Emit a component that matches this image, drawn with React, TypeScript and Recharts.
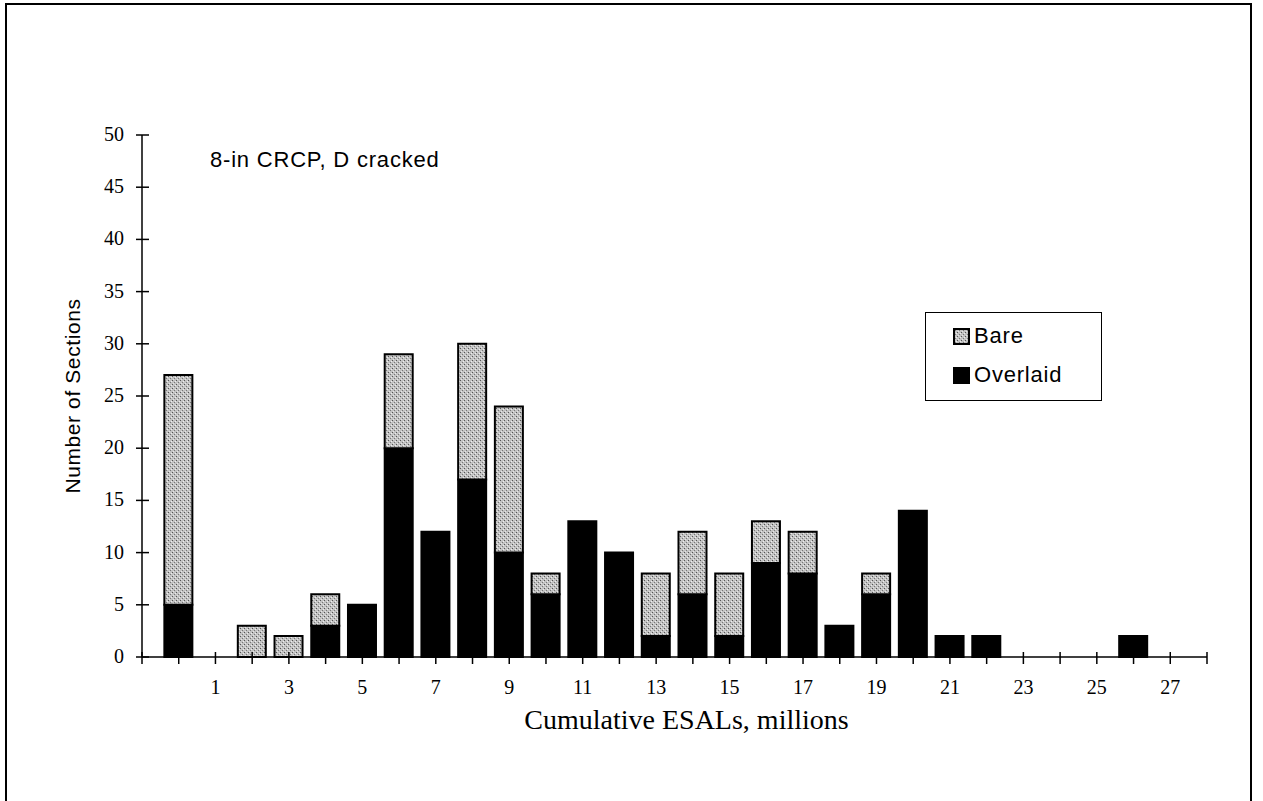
import React from "react";
import { BarChart, Bar, XAxis, YAxis, Legend, Label } from "recharts";

const positions = [0, 2, 3, 4, 5, 6, 7, 8, 9, 10, 11, 12, 13, 14, 15, 16, 17, 18, 19, 20, 21, 22, 26];
const overlaid = [5, 0, 0, 3, 5, 20, 12, 17, 10, 6, 13, 10, 2, 6, 2, 9, 8, 3, 6, 14, 2, 2, 2];
const bare = [22, 3, 2, 3, 0, 9, 0, 13, 14, 2, 0, 0, 6, 6, 6, 4, 4, 0, 2, 0, 0, 0, 0];
const xTicks = Array.from({ length: 30 }, (_, i) => i - 1);
const xLabels = [1, 3, 5, 7, 9, 11, 13, 15, 17, 19, 21, 23, 25, 27];
const yTicks = [0, 5, 10, 15, 20, 25, 30, 35, 40, 45, 50];

const data = positions.map((p, i) => ({ x: p, Overlaid: overlaid[i], Bare: bare[i] }));

const SERIF = "'Liberation Serif', 'Times New Roman', serif";
const SANS = "'Liberation Sans', Arial, sans-serif";

const XTick = (props: any) => {
  const { x, y, payload } = props;
  const v = payload.value;
  return (
    <g>
      <line x1={x} x2={x} y1={y - 5} y2={y + 7} stroke="#000" strokeWidth={1.5} />
      {xLabels.includes(v) && (
        <text x={x} y={y + 37} textAnchor="middle" fontFamily={SERIF} fontSize={20} fill="#000">
          {v}
        </text>
      )}
    </g>
  );
};

const YTick = (props: any) => {
  const { x, y, payload } = props;
  return (
    <g>
      <line x1={x - 6} x2={x + 7} y1={y} y2={y} stroke="#000" strokeWidth={1.5} />
      <text x={x - 18} y={y + 6} textAnchor="end" fontFamily={SERIF} fontSize={20} fill="#000">
        {payload.value}
      </text>
    </g>
  );
};

const LegendBox = () => (
  <div
    style={{
      width: 177,
      height: 89,
      border: "1.5px solid #000",
      background: "#fff",
      fontFamily: SANS,
      fontSize: 22,
      letterSpacing: 0.8,
      color: "#000",
      boxSizing: "border-box",
      paddingLeft: 27,
      paddingTop: 9,
    }}
  >
    <div style={{ display: "flex", alignItems: "center", height: 28 }}>
      <svg width={17} height={17} style={{ marginRight: 4 }}>
        <rect x={1} y={1} width={15} height={15} fill="url(#stipple)" stroke="#000" strokeWidth={2} />
      </svg>
      Bare
    </div>
    <div style={{ display: "flex", alignItems: "center", height: 28, marginTop: 11 }}>
      <span style={{ display: "inline-block", width: 17, height: 17, background: "#000", marginRight: 4 }} />
      Overlaid
    </div>
  </div>
);

export default function App() {
  return (
    <div style={{ position: "absolute", left: 0, top: 0, width: 1263, height: 801, overflow: "hidden", background: "#fff" }}>
      <svg width={0} height={0} style={{ position: "absolute" }}>
        <defs>
          <pattern id="stipple" width={4} height={4} patternUnits="userSpaceOnUse">
            <rect width={4} height={4} fill="#c2c2c2" />
            <rect x={0} y={0} width={1} height={1} fill="#555" />
            <rect x={2} y={2} width={1} height={1} fill="#777" />
            <rect x={3} y={1} width={1} height={1} fill="#eee" />
            <rect x={1} y={3} width={1} height={1} fill="#e6e6e6" />
          </pattern>
        </defs>
      </svg>
      <div
        style={{
          position: "absolute",
          left: 5,
          top: 3,
          width: 1247,
          height: 810,
          border: "2px solid #000",
          boxSizing: "border-box",
        }}
      />
      <div
        style={{
          position: "absolute",
          left: 210,
          top: 147,
          fontFamily: SANS,
          fontSize: 22,
          letterSpacing: 0.8,
          color: "#000",
          whiteSpace: "nowrap",
        }}
      >
        8-in CRCP, D cracked
      </div>
      <BarChart
        width={1263}
        height={801}
        data={data}
        margin={{ top: 135, right: 56, left: 0, bottom: 0 }}
        barSize={28}
      >
        <XAxis
          dataKey="x"
          type="number"
          domain={[-1, 28]}
          ticks={xTicks}
          interval={0}
          allowDecimals={false}
          height={144}
          tickSize={0}
          tickMargin={0}
          axisLine={{ stroke: "#000", strokeWidth: 1.5 }}
          tickLine={false}
          tick={XTick}
        >
          <Label
            value="Cumulative ESALs, millions"
            position="center"
            dx={12}
            dy={-10}
            style={{ fontFamily: SERIF, fontSize: 28, fill: "#000" }}
          />
        </XAxis>
        <YAxis
          type="number"
          domain={[0, 50]}
          ticks={yTicks}
          interval={0}
          width={142}
          tickSize={0}
          tickMargin={0}
          axisLine={{ stroke: "#000", strokeWidth: 1.5 }}
          tickLine={false}
          tick={YTick}
        >
          <Label
            value="Number of Sections"
            position="center"
            angle={-90}
            dx={2}
            style={{ fontFamily: SANS, fontSize: 21, letterSpacing: 0.6, fill: "#000", textAnchor: "middle" }}
          />
        </YAxis>
        <Legend
          verticalAlign="middle"
          align="center"
          content={LegendBox}
          wrapperStyle={{ position: "absolute", left: 925, top: 312, width: 177, height: 89 }}
        />
        <Bar dataKey="Overlaid" stackId="a" fill="#000" stroke="#000" strokeWidth={2} isAnimationActive={false} />
        <Bar dataKey="Bare" stackId="a" fill="url(#stipple)" stroke="#000" strokeWidth={2} isAnimationActive={false} />
      </BarChart>
    </div>
  );
}
